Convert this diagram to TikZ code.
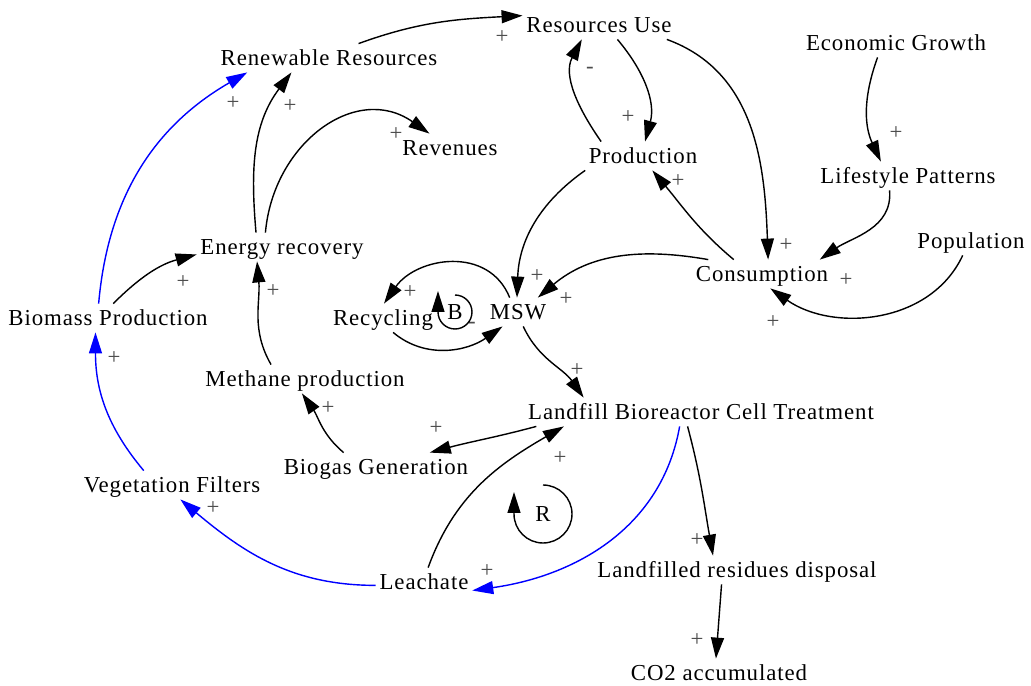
\documentclass[tikz,border=0pt]{standalone}
\usepackage{fontspec}
\setmainfont{Liberation Serif}
\newfontfamily\labelfont[LetterSpace=4]{Liberation Serif}
\usetikzlibrary{arrows.meta}
\begin{document}
\begin{tikzpicture}[x=0.02cm,y=0.02cm,
  var/.style={font=\labelfont\fontsize{13}{15}\selectfont, text height=10.5pt, text depth=1.5pt, inner sep=2pt},
  sgn/.style={font=\fontsize{13}{15}\selectfont, text=black!70, inner sep=0pt},
  tag/.style={font=\fontsize{13}{15}\selectfont, inner sep=0pt},
  link/.style={line width=0.8pt, -{Triangle[length=0.42cm,width=0.26cm]}},
  blink/.style={link, blue},
  loopmark/.style={line width=0.8pt, -{Triangle[length=0.42cm,width=0.26cm]}}
]
\useasboundingbox (0,0) rectangle (1031,-686);

% variables
\node[var] (ru)    at (599,-25)  {Resources Use};
\node[var] (ren)   at (329,-58)  {Renewable Resources};
\node[var] (eg)    at (896,-43)  {Economic Growth};
\node[var] (rev)   at (450,-148) {Revenues};
\node[var] (prod)  at (643,-156) {Production};
\node[var] (lp)    at (908,-176) {Lifestyle Patterns};
\node[var] (er)    at (282,-247) {Energy recovery};
\node[var] (pop)   at (971,-241) {Population};
\node[var] (cons)  at (762,-274) {Consumption};
\node[var] (bp)    at (108,-318) {Biomass Production};
\node[var] (rec)   at (383,-318) {Recycling};
\node[var] (msw)   at (518,-312) {MSW};
\node[var] (mp)    at (305,-379) {Methane production};
\node[var] (lbct)  at (701,-412) {Landfill Bioreactor Cell Treatment};
\node[var] (bg)    at (376,-467) {Biogas Generation};
\node[var] (vf)    at (172,-485) {Vegetation Filters};
\node[var] (leach) at (424,-582) {Leachate};
\node[var] (lrd)   at (737,-570) {Landfilled residues disposal};
\node[var] (co2)   at (719,-673) {CO2 accumulated};

% causal links
\draw[link] (ren.26) to[out=20,in=183] (ru.173);
\draw[link] (ru.-38) to[out=-50,in=75] (prod.82);
\draw[link] (prod.161) to[out=125,in=-118] (ru.-140);
\draw[link] (ru.-12) to[out=-20,in=92] (cons.67);
\draw[link] (eg.-142) to[out=-110,in=115] (lp.152);
\draw[link] (lp.-142) to[out=-85,in=35] (cons.14);
\draw[link] (pop.-120) to[out=-115,in=-35] (cons.-60);
\draw[link] (cons.153) to[out=140,in=-50] (prod.-57);
\draw[link] (cons.165) to[out=170,in=40] (msw.36);
\draw[link] (prod.-166) to[out=-145,in=88] (msw.94);
\draw[link] (msw.120) to[out=112,in=55,looseness=1.15] (rec.86);
\draw[link] (rec.-55) to[out=-40,in=-145] (msw.-137);
\draw[link] (msw.-70) to[out=-65,in=125] (lbct.173);
\draw[link] (lbct.-175) to[out=-165,in=15] (bg.15);
\draw[link] (lbct.-133) to[out=-75,in=100] (lrd.149);
\draw[blink] (lbct.-146) to[out=-100,in=8] (leach.-10);
\draw[link] (leach.74) to[out=70,in=-150] (lbct.-174);
\draw[blink] (leach.-176) to[out=180,in=-40] (vf.-60);
\draw[blink] (vf.153) to[out=130,in=-90] (bp.-131);
\draw[blink] (bp.123) to[out=85,in=-150] (ren.-170);
\draw[link] (bp.70) to[out=45,in=-165] (er.-175);
\draw[link] (er.151) to[out=95,in=-127] (ren.-159);
\draw[link] (er.139) to[out=85,in=145,looseness=1.2] (rev.145);
\draw[link] (mp.157) to[out=120,in=-85] (er.-150);
\draw[link] (bg.156) to[out=140,in=-55] (mp.-102);
\draw[link] (lrd.-137) -- (co2.102);

% polarity signs
\node[sgn] (s1)  at (502,-37)  {+};
\node[sgn] (s2)  at (628,-117) {+};
\node[sgn] (s3)  at (590,-70)  {-};
\node[sgn] (s4)  at (786,-245) {+};
\node[sgn] (s5)  at (896,-133) {+};
\node[sgn] (s6)  at (846,-280) {+};
\node[sgn] (s7)  at (773,-322) {+};
\node[sgn] (s8)  at (678,-181) {+};
\node[sgn] (s9)  at (537,-276) {+};
\node[sgn] (s10) at (566,-299) {+};
\node[sgn] (s11) at (410,-292) {+};
\node[sgn] (s12) at (472,-325) {-};
\node[sgn] (s13) at (577,-370) {+};
\node[sgn] (s14) at (436,-428) {+};
\node[sgn] (s15) at (697,-540) {+};
\node[sgn] (s16) at (487,-571) {+};
\node[sgn] (s17) at (560,-458) {+};
\node[sgn] (s18) at (213,-508) {+};
\node[sgn] (s19) at (114,-358) {+};
\node[sgn] (s20) at (233,-103) {+};
\node[sgn] (s21) at (183,-282) {+};
\node[sgn] (s22) at (290,-106) {+};
\node[sgn] (s23) at (396,-134) {+};
\node[sgn] (s24) at (273,-291) {+};
\node[sgn] (s25) at (328,-408) {+};
\node[sgn] (s26) at (697,-640) {+};

% loop markers
\node[tag] (lb) at (455,-312) {B};
\draw[loopmark] (455,-295) arc[start angle=90,end angle=-180,radius=0.34cm] -- ++(0,21);
\node[tag] (lr) at (543,-514) {R};
\draw[loopmark] (543,-485) arc[start angle=90,end angle=-180,radius=0.58cm] -- ++(0,22);
\end{tikzpicture}
\end{document}
